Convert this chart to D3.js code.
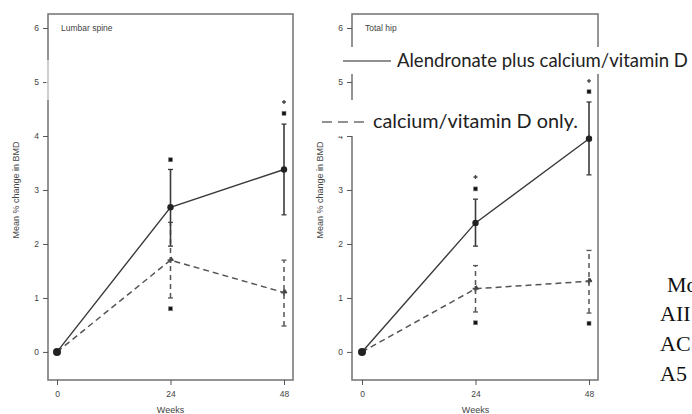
<!DOCTYPE html>
<html>
<head>
<meta charset="utf-8">
<script src="https://cdn.jsdelivr.net/npm/d3@7/dist/d3.min.js"></script>
<style>
  html, body { margin: 0; padding: 0; background: #fff; }
  svg { display: block; }
</style>
</head>
<body>
<svg id="chart" width="692" height="414"></svg>
<script>
// Weeks of follow-up
const weeks = [0, 24, 48];
const yTicks = [0, 1, 2, 3, 4, 5, 6];

// Lumbar spine: mean % change and interval limits
const spineAlnMean = [0, 2.68, 3.38];
const spineAlnLow  = [0, 1.96, 2.54];
const spineAlnHigh = [0, 3.38, 4.22];
const spineCalMean = [0, 1.70, 1.10];
const spineCalLow  = [0, 1.00, 0.48];
const spineCalHigh = [0, 2.40, 1.70];
// Individual markers above / below the bars: [week, value]
const spineSquares = [[24, 3.56], [48, 4.42], [24, 0.80]];
const spinePluses  = [[48, 4.63]];

// Total hip
const hipAlnMean = [0, 2.39, 3.95];
const hipAlnLow  = [0, 1.96, 3.28];
const hipAlnHigh = [0, 2.83, 4.63];
const hipCalMean = [0, 1.17, 1.31];
const hipCalLow  = [0, 0.74, 0.72];
const hipCalHigh = [0, 1.60, 1.88];
const hipSquares = [[24, 3.02], [48, 4.82], [24, 0.54], [48, 0.53]];
const hipPluses  = [[24, 3.24], [48, 5.02]];

const legendLabels = ["Alendronate plus calcium/vitamin D", "calcium/vitamin D only."];
const sideLabels = ["Mo", "AII", "AC", "A5"];

const svg = d3.select("#chart");
const ink = "#3a3a3a";
const frameCol = "#7a7a7a";
const axisFont = "Liberation Sans, Arial, sans-serif";

const panels = [
  { title: "Lumbar spine", left: 48, x0: 57,
    aln: [spineAlnMean, spineAlnLow, spineAlnHigh],
    cal: [spineCalMean, spineCalLow, spineCalHigh],
    squares: spineSquares, pluses: spinePluses },
  { title: "Total hip", left: 352, x0: 362,
    aln: [hipAlnMean, hipAlnLow, hipAlnHigh],
    cal: [hipCalMean, hipCalLow, hipCalHigh],
    squares: hipSquares, pluses: hipPluses }
];

const plotTop = 14, plotBottom = 380;
const y = d3.scaleLinear().domain([-0.52, 6.26]).range([plotBottom, plotTop]);

panels.forEach(p => {
  const x = d3.scaleLinear().domain([0, 48]).range([p.x0, p.x0 + 227]);
  const right = p.x0 + 236;
  const g = svg.append("g");

  // frame
  g.append("rect")
    .attr("x", p.left).attr("y", plotTop)
    .attr("width", right - p.left).attr("height", plotBottom - plotTop)
    .attr("fill", "none").attr("stroke", frameCol).attr("stroke-width", 1.6);

  // y axis
  const yAxis = g.append("g")
    .attr("transform", `translate(${p.left},0)`)
    .call(d3.axisLeft(y).tickValues(yTicks).tickSize(5).tickPadding(4).tickFormat(d3.format("d")));
  yAxis.select(".domain").remove();
  yAxis.selectAll("line").attr("stroke", "#555");
  yAxis.selectAll("text").attr("font-family", axisFont).attr("font-size", 8.5).attr("fill", "#444");

  // x axis
  const xAxis = g.append("g")
    .attr("transform", `translate(0,${plotBottom})`)
    .call(d3.axisBottom(x).tickValues(weeks).tickSize(5).tickPadding(6).tickFormat(d3.format("d")));
  xAxis.select(".domain").remove();
  xAxis.selectAll("line").attr("stroke", "#555");
  xAxis.selectAll("text").attr("font-family", axisFont).attr("font-size", 8.5).attr("fill", "#444");

  // axis titles
  g.append("text")
    .attr("x", (p.x0 + p.x0 + 227) / 2).attr("y", 413)
    .attr("text-anchor", "middle")
    .attr("font-family", axisFont).attr("font-size", 9).attr("fill", "#444")
    .text("Weeks");
  g.append("text")
    .attr("transform", `translate(${p.left - 29},190) rotate(-90)`)
    .attr("text-anchor", "middle")
    .attr("font-family", axisFont).attr("font-size", 9).attr("fill", "#444")
    .text("Mean % change in BMD");

  g.append("text")
    .attr("x", p.left + 13).attr("y", 31)
    .attr("font-family", axisFont).attr("font-size", 8.5).attr("fill", "#444")
    .text(p.title);

  const line = d3.line().x((d, i) => x(weeks[i])).y(d => y(d));

  // calcium / vitamin D only: dashed
  const [cm, cl, ch] = p.cal;
  g.append("path").datum(cm).attr("d", line)
    .attr("fill", "none").attr("stroke", "#555").attr("stroke-width", 1.5)
    .attr("stroke-dasharray", "6,4");
  weeks.forEach((w, i) => {
    if (i === 0) return;
    g.append("line")
      .attr("x1", x(w)).attr("x2", x(w)).attr("y1", y(cl[i])).attr("y2", y(ch[i]))
      .attr("stroke", "#555").attr("stroke-width", 1.5).attr("stroke-dasharray", "5,4");
    [cl[i], ch[i]].forEach(v => g.append("line")
      .attr("x1", x(w) - 2.5).attr("x2", x(w) + 2.5).attr("y1", y(v)).attr("y2", y(v))
      .attr("stroke", "#555").attr("stroke-width", 1.3));
    g.append("path")
      .attr("transform", `translate(${x(w)},${y(cm[i])})`)
      .attr("d", d3.symbol(d3.symbolCross, 18)())
      .attr("fill", "#555");
    g.append("path")
      .attr("transform", `translate(${x(w) + 1},${y(cm[i]) - 1})`)
      .attr("d", d3.symbol(d3.symbolTriangle, 10)())
      .attr("fill", "#444");
  });

  // alendronate plus calcium / vitamin D: solid
  const [am, al, ah] = p.aln;
  g.append("path").datum(am).attr("d", line)
    .attr("fill", "none").attr("stroke", ink).attr("stroke-width", 1.4);
  weeks.forEach((w, i) => {
    if (i === 0) return;
    g.append("line")
      .attr("x1", x(w)).attr("x2", x(w)).attr("y1", y(al[i])).attr("y2", y(ah[i]))
      .attr("stroke", ink).attr("stroke-width", 1.6);
    [al[i], ah[i]].forEach(v => g.append("line")
      .attr("x1", x(w) - 2.5).attr("x2", x(w) + 2.5).attr("y1", y(v)).attr("y2", y(v))
      .attr("stroke", ink).attr("stroke-width", 1.3));
    g.append("circle").attr("cx", x(w)).attr("cy", y(am[i])).attr("r", 3.2).attr("fill", "#222");
  });
  g.append("circle").attr("cx", x(0)).attr("cy", y(0)).attr("r", 4).attr("fill", "#222");

  // individual markers
  p.squares.forEach(([w, v]) => g.append("rect")
    .attr("x", x(w) - 2).attr("y", y(v) - 2).attr("width", 4).attr("height", 4)
    .attr("fill", "#111").attr("stroke", "#888").attr("stroke-width", 0.6));
  p.pluses.forEach(([w, v]) => g.append("path")
    .attr("transform", `translate(${x(w)},${y(v)})`)
    .attr("d", d3.symbol(d3.symbolCross, 9)())
    .attr("fill", "#444"));
});

// faint break on the left frame
svg.append("rect").attr("x", 46).attr("y", 60).attr("width", 4).attr("height", 40)
  .attr("fill", "#fff").attr("opacity", 0.55);

// legend, laid over the right panel on white bands
const legendFont = "Lato, 'Open Sans', sans-serif";
svg.append("rect").attr("x", 338).attr("y", 47).attr("width", 354).attr("height", 27).attr("fill", "#fff");
svg.append("rect").attr("x", 318).attr("y", 100).attr("width", 265).attr("height", 36).attr("fill", "#fff");

// size a legend label so it spans the given width
function fitText(sel, width) {
  const w = sel.node().getComputedTextLength();
  const size = parseFloat(sel.attr("font-size"));
  sel.attr("font-size", (size * width / w).toFixed(2));
}

svg.append("line").attr("x1", 343).attr("x2", 391).attr("y1", 61).attr("y2", 61)
  .attr("stroke", "#222").attr("stroke-width", 1.2);
const leg1 = svg.append("text").attr("x", 397).attr("y", 67)
  .attr("font-family", legendFont).attr("font-size", 18).attr("fill", "#222")
  .text(legendLabels[0]);
fitText(leg1, 291);

svg.append("line").attr("x1", 322).attr("x2", 368).attr("y1", 122).attr("y2", 122)
  .attr("stroke", "#222").attr("stroke-width", 1.2).attr("stroke-dasharray", "10,6");
const leg2 = svg.append("text").attr("x", 373).attr("y", 128)
  .attr("font-family", legendFont).attr("font-size", 18).attr("fill", "#222")
  .text(legendLabels[1]);
fitText(leg2, 205);

// text running in from the right edge
const sideY = [292, 321, 351, 381];
const sideX = [667, 660, 660, 660];
sideLabels.forEach((t, i) => svg.append("text")
  .attr("x", sideX[i]).attr("y", sideY[i])
  .attr("font-family", "'Liberation Serif', 'Times New Roman', serif")
  .attr("font-size", 22).attr("fill", "#111")
  .text(t));
</script>
</body>
</html>
